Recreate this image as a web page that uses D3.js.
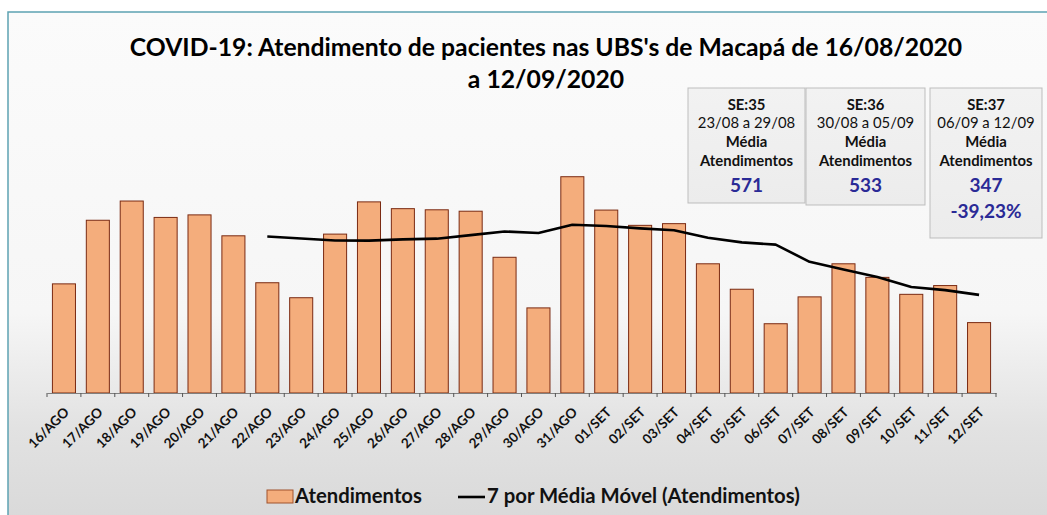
<!DOCTYPE html>
<html><head><meta charset="utf-8">
<script src="https://cdn.jsdelivr.net/npm/d3@7"></script>
<style>
html,body{margin:0;padding:0;background:#fff;}
svg{display:block;}
text{font-family:Lato,"Open Sans",sans-serif;}
</style></head>
<body><svg id="c" width="1047" height="515"></svg>
<script>
// ---- data ----
const categories = ["16/AGO","17/AGO","18/AGO","19/AGO","20/AGO","21/AGO","22/AGO","23/AGO","24/AGO","25/AGO","26/AGO","27/AGO","28/AGO","29/AGO","30/AGO","31/AGO","01/SET","02/SET","03/SET","04/SET","05/SET","06/SET","07/SET","08/SET","09/SET","10/SET","11/SET","12/SET"];
const atendimentos = [386,611,679,621,630,556,390,337,562,676,652,648,643,480,301,765,647,593,599,457,367,245,340,457,409,349,380,249];
const movingPeriod = 7;
const titleLines = ["COVID-19: Atendimento de pacientes nas UBS's de Macapá de 16/08/2020","a 12/09/2020"];
const weekLabels = ["SE:35","SE:36","SE:37"];
const weekRanges = ["23/08 a 29/08","30/08 a 05/09","06/09 a 12/09"];
const weekMeans = [571,533,347];
const weekChange = ["","","-39,23%"];
const legendLabels = ["Atendimentos","7 por Média Móvel (Atendimentos)"];

// moving average (trendline of the series, as in the spreadsheet)
const movAvg = atendimentos.map((v,i)=> i < movingPeriod-1 ? null : d3.mean(atendimentos.slice(i-movingPeriod+1,i+1)));

const svg = d3.select("#c");
const defs = svg.append("defs");
const g = defs.append("linearGradient").attr("id","bg").attr("x1",0).attr("y1",0).attr("x2",0).attr("y2",1);
g.append("stop").attr("offset","0%").attr("stop-color","#fbfbfb");
g.append("stop").attr("offset","58%").attr("stop-color","#f6f6f6");
g.append("stop").attr("offset","80%").attr("stop-color","#e2e2e2");
g.append("stop").attr("offset","100%").attr("stop-color","#d8d8d8");
const gb = defs.append("linearGradient").attr("id","boxbg").attr("x1",0).attr("y1",0).attr("x2",0).attr("y2",1);
gb.append("stop").attr("offset","0%").attr("stop-color","#f2f2f2");
gb.append("stop").attr("offset","100%").attr("stop-color","#ececec");

svg.append("rect").attr("width",1047).attr("height",515).attr("fill","#fff");
svg.append("rect").attr("x",8).attr("y",12).attr("width",1060).attr("height",520)
  .attr("fill","url(#bg)").attr("stroke","#5ea3b3").attr("stroke-width",1.5);

// scales
const x = d3.scaleBand().domain(categories).range([47,996]).paddingInner(0.32).paddingOuter(0.16);
const y = d3.scaleLinear().domain([0,900]).range([393,393-900/3.537]);

// bars
svg.append("g").selectAll("rect").data(atendimentos).join("rect")
  .attr("x",(d,i)=>x(categories[i]))
  .attr("y",d=>y(d))
  .attr("width",x.bandwidth())
  .attr("height",d=>y(0)-y(d))
  .attr("fill","#f4ad7c")
  .attr("stroke","#7a2a12").attr("stroke-width",1);

// axis
const axisG = svg.append("g").attr("transform",`translate(0,${y(0)})`);
axisG.call(d3.axisBottom(x).tickSize(0).tickPadding(0));
axisG.select(".domain").attr("stroke","#7f7f7f").attr("stroke-width",1.2);
const bounds = categories.map(c=>x(c)-x.step()*x.paddingInner()/2).concat([x(categories[categories.length-1])+x.bandwidth()+x.step()*x.paddingInner()/2]);
axisG.selectAll("line.bt").data(bounds).join("line").attr("class","bt")
  .attr("x1",d=>d).attr("x2",d=>d).attr("y1",0).attr("y2",4).attr("stroke","#555").attr("stroke-width",1);
axisG.selectAll(".tick text")
  .attr("font-size",13.5).attr("font-weight","bold").attr("fill","#111")
  .attr("text-anchor","end").attr("dy",0)
  .attr("transform","translate(6,20) rotate(-45)");

// moving average line
const line = d3.line().defined(d=>d!==null).x((d,i)=>x(categories[i])+x.bandwidth()/2).y(d=>y(d));
svg.append("path").datum(movAvg).attr("d",line).attr("fill","none").attr("stroke","#000").attr("stroke-width",2.6).attr("stroke-linejoin","round");

// title
function fitText(sel,target){ const w=sel.node().getComputedTextLength(); const fs=parseFloat(sel.attr("font-size")); sel.attr("font-size",fs*target/w); return fs*target/w; }
const t1 = svg.append("text").attr("x",546).attr("y",56).attr("text-anchor","middle").attr("font-size",24).attr("font-weight","bold").attr("fill","#000").text(titleLines[0]);
fitText(t1,833);
const t2 = svg.append("text").attr("x",546).attr("y",88).attr("text-anchor","middle").attr("font-size",t1.attr("font-size")).attr("font-weight","bold").attr("fill","#000").text(titleLines[1]);

// info boxes
const probe = svg.append("text").attr("font-size",12).attr("font-weight","bold").text("Atendimentos");
const smallFs = fitText(probe,93); probe.remove();
const boxGeom = [{x:688,y:88,w:117,h:115},{x:806,y:88,w:119,h:117},{x:930,y:88,w:112,h:150}];
boxGeom.forEach((b,i)=>{
  const gg = svg.append("g");
  gg.append("rect").attr("x",b.x).attr("y",b.y).attr("width",b.w).attr("height",b.h).attr("fill","url(#boxbg)").attr("stroke","#bdbdbd").attr("stroke-width",1);
  const cx = b.x+b.w/2;
  const rows = [
    {t:weekLabels[i],y:110,fs:smallFs,fw:"bold",c:"#111"},
    {t:weekRanges[i],y:128,fs:smallFs,fw:"normal",c:"#111"},
    {t:"Média",y:147,fs:smallFs,fw:"bold",c:"#111"},
    {t:"Atendimentos",y:166,fs:smallFs,fw:"bold",c:"#111"},
    {t:String(weekMeans[i]),y:192,fs:19,fw:"bold",c:"#2a2a96"}
  ];
  if(weekChange[i]) rows.push({t:weekChange[i],y:218,fs:19,fw:"bold",c:"#2a2a96"});
  rows.forEach(r=>gg.append("text").attr("x",cx).attr("y",r.y).attr("text-anchor","middle").attr("font-size",r.fs).attr("font-weight",r.fw).attr("fill",r.c).text(r.t));
});

// legend
svg.append("rect").attr("x",267).attr("y",490).attr("width",26).attr("height",13).attr("fill","#f4ad7c").attr("stroke","#a0522d").attr("stroke-width",1);
const l1 = svg.append("text").attr("x",295).attr("y",503).attr("font-size",16).attr("font-weight","bold").attr("fill","#111").text(legendLabels[0]);
fitText(l1,127);
svg.append("line").attr("x1",458).attr("x2",485).attr("y1",497).attr("y2",497).attr("stroke","#000").attr("stroke-width",2.6);
const l2 = svg.append("text").attr("x",487).attr("y",503).attr("font-size",16).attr("font-weight","bold").attr("fill","#111").text(legendLabels[1]);
fitText(l2,313);
</script></body></html>
